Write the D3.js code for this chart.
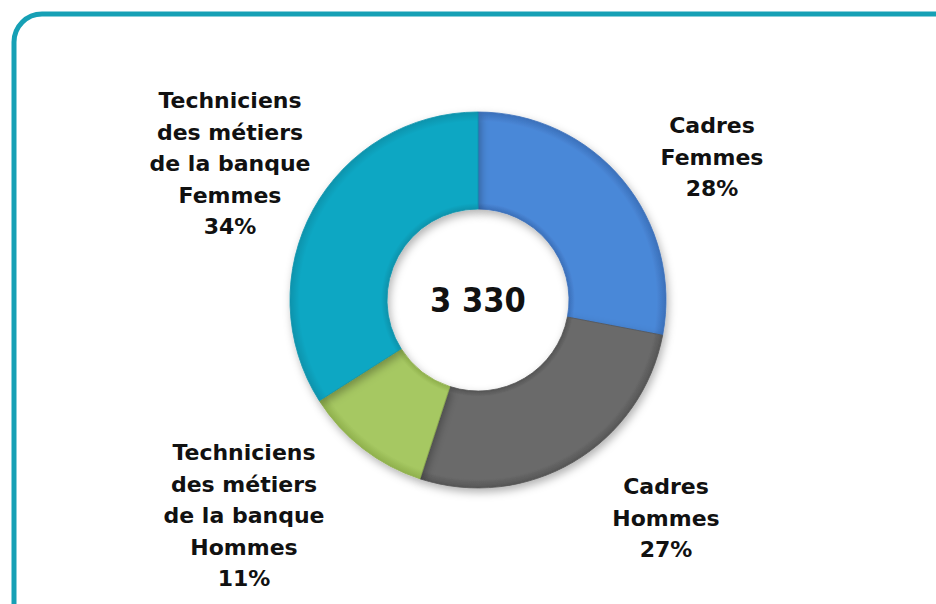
<!DOCTYPE html>
<html>
<head>
<meta charset="utf-8">
<script src="https://cdn.jsdelivr.net/npm/d3@7"></script>
<style>
  body { margin: 0; background: #fff; }
  svg { display: block; }
  text { font-family: "DejaVu Sans", sans-serif; font-weight: 700; fill: #111; }
</style>
</head>
<body>
<svg id="chart" width="936" height="604"></svg>
<script>
// data
var categories = ["Cadres Femmes", "Cadres Hommes", "Techniciens Hommes", "Techniciens Femmes"];
var shares = [28, 27, 11, 34];
var labelLines = [
    ["Cadres", "Femmes"],
    ["Cadres", "Hommes"],
    ["Techniciens", "des métiers", "de la banque", "Hommes"],
    ["Techniciens", "des métiers", "de la banque", "Femmes"]
];
var total = "3 330";
var colors = ["#4a88d8", "#6b6b6b", "#a6c862", "#0ea7c3"];
var darkColors = ["#3b70ba", "#555555", "#8fb04c", "#0a93ac"];
// label anchors (x, y of first line)
var labelPos = [[712, 125], [666, 486], [244, 452], [230, 100]];

var svg = d3.select('#chart');
var defs = svg.append('defs');

// frame
svg.append('rect')
    .attr('x', 14)
    .attr('y', 14)
    .attr('width', 960)
    .attr('height', 620)
    .attr('rx', 28)
    .attr('fill', 'none')
    .attr('stroke', '#16a0b5')
    .attr('stroke-width', 5);

var cx = 478, cy = 300;
var outerR = 188, innerR = 91;

var f = defs.append('filter').attr('id', 'shadow')
    .attr('x', '-20%').attr('y', '-20%').attr('width', '140%').attr('height', '140%');
f.append('feDropShadow')
    .attr('dx', 2).attr('dy', 4).attr('stdDeviation', 4)
    .attr('flood-color', '#000').attr('flood-opacity', 0.3);

colors.forEach(function (c, i) {
    var g = defs.append('radialGradient')
        .attr('id', 'grad' + i)
        .attr('gradientUnits', 'userSpaceOnUse')
        .attr('cx', 0).attr('cy', 0).attr('r', outerR);
    g.append('stop').attr('offset', innerR / outerR).attr('stop-color', darkColors[i]);
    g.append('stop').attr('offset', (innerR + 6) / outerR).attr('stop-color', c);
    g.append('stop').attr('offset', 0.95).attr('stop-color', c);
    g.append('stop').attr('offset', 1).attr('stop-color', darkColors[i]);
});

var pie = d3.pie().sort(null).value(function (d) { return d; });
var arc = d3.arc().innerRadius(innerR).outerRadius(outerR);

var g = svg.append('g')
    .attr('transform', 'translate(' + cx + ',' + cy + ')');

g.selectAll('path')
    .data(pie(shares))
    .enter()
    .append('path')
    .attr('d', arc)
    .attr('fill', function (d, i) { return 'url(#grad' + i + ')'; })
    .attr('stroke', function (d, i) { return darkColors[i]; })
    .attr('stroke-width', 0.8)
    .attr('filter', 'url(#shadow)');

// center total
svg.append('text')
    .attr('x', cx)
    .attr('y', cy + 12)
    .attr('text-anchor', 'middle')
    .style('font-family', '"DejaVu Sans Condensed", "DejaVu Sans", sans-serif')
    .style('font-size', '34px')
    .text(total);

// labels
var lineH = 31.5;
labelLines.forEach(function (lines, i) {
    var t = svg.append('text')
        .attr('text-anchor', 'middle')
        .style('font-size', '22px');
    var all = lines.concat([shares[i] + '%']);
    all.forEach(function (s, j) {
        t.append('tspan')
            .attr('x', labelPos[i][0])
            .attr('y', labelPos[i][1] + 8 + j * lineH)
            .text(s);
    });
});
</script>
</body>
</html>
